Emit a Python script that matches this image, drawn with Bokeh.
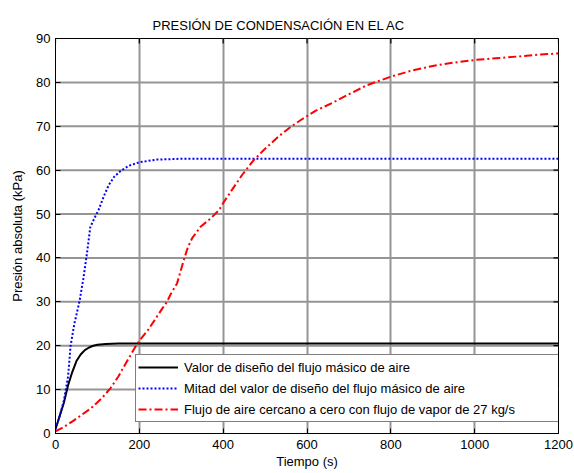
import math
from bokeh.plotting import figure
from bokeh.models import (Range1d, FixedTicker, Legend, LegendItem, Title, Grid, Span)
from bokeh.embed import file_html
from bokeh.resources import INLINE

# ---- data ----
t_black = [0, 10, 20, 30, 40, 50, 60, 70, 80, 90, 100, 120, 150, 200, 1200]
p_black = [1, 4, 7, 11, 14, 16.5, 18, 19, 19.6, 20.0, 20.2, 20.4, 20.5, 20.5, 20.5]

t_blue = [0, 10, 20, 30, 36, 45, 57, 66, 75, 83, 95, 103, 115, 127, 140, 155, 175, 200, 240, 300, 1200]
p_blue = [1, 4, 7.5, 13, 20, 25, 30, 35, 41, 47, 49.5, 51, 54, 56.6, 58.5, 59.8, 61, 61.8, 62.4, 62.6, 62.6]

t_red = [0, 20, 44, 84, 110, 131, 150, 163, 180, 195, 220, 239, 255, 266, 274, 290, 306, 316, 326,
         346, 370, 390, 402, 421, 445, 473, 497, 530, 560, 588, 620, 664, 700, 744, 800, 850, 903,
         950, 1000, 1050, 1103, 1150, 1200]
p_red = [0.5, 1.5, 3, 5.7, 8, 10.3, 13, 15.2, 18, 20.5, 23.5, 26.2, 28.5, 30, 31.6, 34.2, 39.5, 42.5, 44.5,
         47.1, 49, 50.9, 52.8, 55.5, 58.9, 62.3, 64.6, 67.5, 69.8, 71.6, 73.5, 75.5, 77.3, 79.4, 81.3, 82.7, 83.8,
         84.5, 85.1, 85.5, 85.9, 86.3, 86.6]

x_ticks = [0, 200, 400, 600, 800, 1000, 1200]
y_ticks = [0, 10, 20, 30, 40, 50, 60, 70, 80, 90]

labels = ["Valor de diseño del flujo másico de aire",
          "Mitad del valor de diseño del flujo másico de aire",
          "Flujo de aire cercano a cero con flujo de vapor de 27 kg/s"]
title_text = "PRESIÓN DE CONDENSACIÓN EN EL AC"
x_label = "Tiempo (s)"
y_label = "Presión absoluta (kPa)"

FONT = "Liberation Sans"
FS = "13px"
GRID = "#959595"

p = figure(width=574, height=473, output_backend="svg", toolbar_location=None,
           x_range=Range1d(0, 1200), y_range=Range1d(0, 90),
           min_border_left=55, min_border_right=16, min_border_top=38, min_border_bottom=40)
p.background_fill_color = "white"
p.border_fill_color = "white"
p.outline_line_color = "black"
p.outline_line_width = 1

p.title = Title(text=title_text, align="left", offset=97, text_font=FONT, text_font_size=FS,
                text_font_style="normal", text_color="black", standoff=12)

for ax in (p.xaxis[0], p.yaxis[0]):
    ax.major_label_text_font = FONT
    ax.major_label_text_font_size = FS
    ax.major_label_text_color = "black"
    ax.axis_label_text_font = FONT
    ax.axis_label_text_font_size = FS
    ax.axis_label_text_font_style = "normal"
    ax.axis_label_text_color = "black"
    ax.major_tick_in = 5
    ax.major_tick_out = 0
    ax.minor_tick_line_color = None
    ax.axis_line_color = "black"
    ax.major_tick_line_color = "black"
p.xaxis[0].ticker = FixedTicker(ticks=x_ticks)
p.yaxis[0].ticker = FixedTicker(ticks=y_ticks)
p.xaxis[0].axis_label = x_label
p.yaxis[0].axis_label = y_label
p.xaxis[0].major_label_standoff = 6
p.yaxis[0].major_label_standoff = 5
p.xaxis[0].axis_label_standoff = 2
p.yaxis[0].axis_label_standoff = 8

# grids: vertical lines via Grid, horizontal lines via Spans at the y ticks
p.center = [r for r in p.center if not isinstance(r, Grid)]
p.add_layout(Grid(dimension=0, ticker=FixedTicker(ticks=x_ticks), grid_line_color=GRID,
                  grid_line_width=2), "center")
for yt in y_ticks[1:-1]:
    p.add_layout(Span(location=yt, dimension="width", line_color=GRID, line_width=2,
                      level="underlay"))

# tick marks on top and right frame edges (markers centred on the edge, clipped by the frame)
p.scatter(x_ticks, [90] * len(x_ticks), marker="dash", size=10, angle=math.pi / 2,
          line_color="black", line_width=1.2)
p.scatter([1200] * len(y_ticks), y_ticks, marker="dash", size=10,
          line_color="black", line_width=1.2)

r1 = p.line(t_black, p_black, line_color="black", line_width=2)
r2 = p.line(t_blue, p_blue, line_color="#0000ff", line_width=2, line_dash="2 2")
r3 = p.line(t_red, p_red, line_color="#ff0000", line_width=2, line_dash="8 3 2 3")

legend = Legend(items=[LegendItem(label=labels[0], renderers=[r1]),
                       LegendItem(label=labels[1], renderers=[r2]),
                       LegendItem(label=labels[2], renderers=[r3])],
                location=(80, 11), label_text_font=FONT, label_text_font_size=FS,
                label_text_color="black", glyph_width=40, glyph_height=20, label_height=20,
                label_width=373, label_standoff=6, spacing=1, padding=2, margin=0,
                border_line_color="black", border_line_width=1.5,
                background_fill_color="white", background_fill_alpha=1)
p.add_layout(legend, "center")

open("out.html", "w").write(file_html(p, INLINE))
